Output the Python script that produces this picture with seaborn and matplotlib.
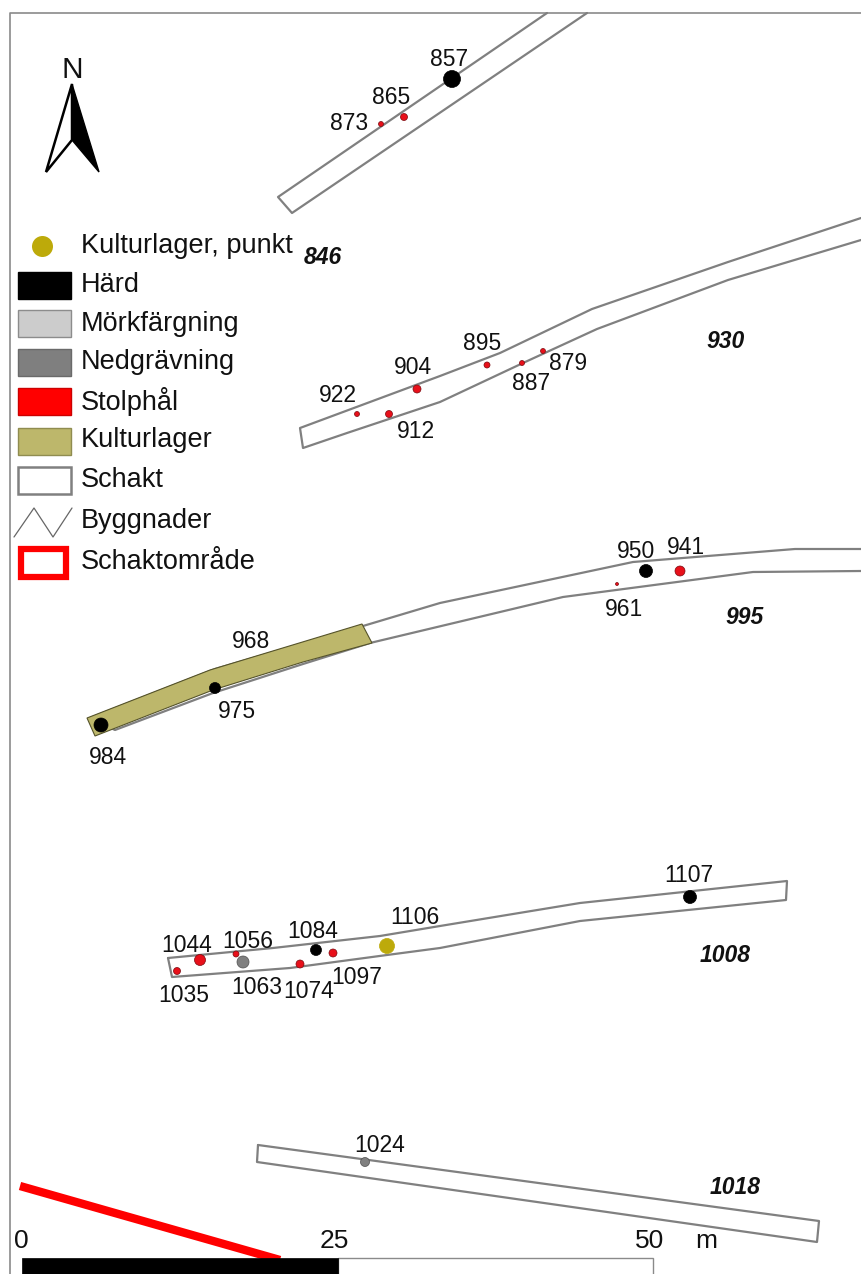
import pandas as pd
import matplotlib.pyplot as plt
import seaborn as sns
from matplotlib.patches import Rectangle

sns.set_theme(style="white")
plt.rcParams['font.family'] = ['Liberation Sans', 'DejaVu Sans']

# all map data is in image pixels
W, H = 861, 1274

# trenches (schakt)
TRENCH_846_X = [547, 278, 292, 587]
TRENCH_846_Y = [13, 197, 213, 13]
TRENCH_930_X = [861, 728, 592, 500, 440, 300, 303, 347, 440, 523, 597, 728, 861]
TRENCH_930_Y = [218, 262, 309, 353, 376, 428, 448, 433, 402, 363, 329, 280, 240]
TRENCH_995_X = [861, 795, 633, 440, 363, 215, 90, 115, 213, 303, 370, 563, 753, 861]
TRENCH_995_Y = [549, 549, 562, 603, 626, 669, 718, 730, 693, 664, 643, 597, 572, 571]
TRENCH_1008_X = [168, 273, 380, 440, 580, 787, 786, 580, 440, 387, 290, 172, 168]
TRENCH_1008_Y = [958, 948, 936, 926, 903, 881, 900, 921, 948, 955, 968, 977, 958]
TRENCH_1018_X = [258, 819, 817, 257, 258]
TRENCH_1018_Y = [1145, 1221, 1242, 1162, 1145]
TRENCHES = [
    (TRENCH_846_X, TRENCH_846_Y),
    (TRENCH_930_X, TRENCH_930_Y),
    (TRENCH_995_X, TRENCH_995_Y),
    (TRENCH_1008_X, TRENCH_1008_Y),
    (TRENCH_1018_X, TRENCH_1018_Y),
]

# kulturlager polygon
LAYER_X = [87, 210, 362, 372, 303, 213, 95]
LAYER_Y = [718, 670, 624, 643, 662, 690, 736]

# schaktområde edge
AREA_X = [20, 280]
AREA_Y = [1186, 1260]

# features
FEATURE_ID = ['857', '865', '873', '879', '887', '895', '904', '912', '922', '941', '950', '961',
              '975', '984', '1035', '1044', '1056', '1063', '1074', '1084', '1097', '1106', '1107', '1024']
FEATURE_X = [452, 404, 381, 543, 522, 487, 417, 389, 357, 680, 646, 617,
             215, 101, 177, 200, 236, 243, 300, 316, 333, 387, 690, 365]
FEATURE_Y = [79, 117, 124, 351, 363, 365, 389, 414, 414, 571, 571, 584,
             688, 725, 971, 960, 954, 962, 964, 950, 953, 946, 897, 1162]
FEATURE_D = [17, 7, 5, 5, 5, 6, 8, 7, 5, 10, 13, 3,
             11, 14, 7, 11, 6, 12, 8, 11, 8, 15, 13, 9]
FEATURE_TYPE = ['Härd', 'Stolphål', 'Stolphål', 'Stolphål', 'Stolphål', 'Stolphål', 'Stolphål',
                'Stolphål', 'Stolphål', 'Stolphål', 'Härd', 'Stolphål',
                'Härd', 'Härd', 'Stolphål', 'Stolphål', 'Stolphål', 'Nedgrävning', 'Stolphål',
                'Härd', 'Stolphål', 'Kulturlager, punkt', 'Härd', 'Nedgrävning']
TYPE_COLORS = {'Härd': '#000000', 'Stolphål': '#e8101a', 'Nedgrävning': '#808080',
               'Kulturlager, punkt': '#bdaa0a'}
TYPE_EDGES = {'Härd': '#000000', 'Stolphål': '#7a0a10', 'Nedgrävning': '#505050',
              'Kulturlager, punkt': '#bdaa0a'}

# feature labels
LABEL_TEXT = ['857', '865', '873', '879', '887', '895', '904', '912', '922', '941', '950', '961',
              '968', '975', '984', '1035', '1044', '1056', '1063', '1074', '1084', '1097', '1106', '1107', '1024']
LABEL_X = [449, 391, 349, 568, 531, 482, 413, 416, 338, 686, 636, 624,
           251, 237, 108, 184, 187, 248, 257, 309, 313, 357, 415, 689, 380]
LABEL_Y = [60, 98, 124, 363, 384, 344, 368, 432, 395, 547, 552, 609,
           641, 712, 758, 995, 946, 942, 988, 991, 932, 977, 918, 875, 1146]

TRENCH_TEXT = ['846', '930', '995', '1008', '1018']
TRENCH_TEXT_X = [323, 726, 745, 725, 735]
TRENCH_TEXT_Y = [257, 342, 617, 956, 1187]

# legend
LEGEND_TEXT = ['Kulturlager, punkt', 'Härd', 'Mörkfärgning', 'Nedgrävning', 'Stolphål',
               'Kulturlager', 'Schakt', 'Byggnader', 'Schaktområde']
LEGEND_Y = [246, 285, 324, 362, 401, 440, 480, 521, 562]
SWATCH_TOP = [272, 310, 349, 388, 428, 467]
SWATCH_FILL = ['#000000', '#cccccc', '#7f7f7f', '#ff0000', '#bdb76b', '#ffffff']
SWATCH_EDGE = ['#000000', '#8c8c8c', '#6a6a6a', '#cc0000', '#8f8c50', '#808080']
ZIGZAG_X = [14, 34, 53, 72]
ZIGZAG_Y = [537, 508, 537, 508]

# north arrow
ARROW_LEFT_X = [72, 46, 72]
ARROW_LEFT_Y = [84, 172, 140]
ARROW_RIGHT_X = [72, 99, 72]
ARROW_RIGHT_Y = [84, 172, 140]

# scale bar
SCALE_TEXT = ['0', '25', '50', 'm']
SCALE_TEXT_X = [21, 334, 650, 706]
SCALE_TEXT_Y = 1241


def outline(ax, xs, ys, color='#808080', lw=1.6, zorder=2, **kws):
    sns.lineplot(x=xs, y=ys, sort=False, estimator=None, color=color,
                 linewidth=lw, ax=ax, zorder=zorder, legend=False, **kws)


def main():
    fig = plt.figure(figsize=(W / 100, H / 100), dpi=100)
    ax = fig.add_axes([0, 0, 1, 1])
    ax.set_xlim(0, W)
    ax.set_ylim(H, 0)
    ax.axis('off')

    # map frame
    outline(ax, [10, 10, W], [H, 13, 13], color='#8a8a8a', lw=1.2, zorder=1)

    for xs, ys in TRENCHES:
        outline(ax, xs, ys)

    ax.fill(LAYER_X, LAYER_Y, facecolor='#bdb76b', edgecolor='#55532a', linewidth=0.8, zorder=3)
    outline(ax, AREA_X, AREA_Y, color='#ff0000', lw=6, zorder=4, solid_capstyle='butt')

    # features
    df = pd.DataFrame({'x': FEATURE_X, 'y': FEATURE_Y, 'kind': FEATURE_TYPE, 'd': FEATURE_D})
    df['area'] = (df['d'] * 0.72) ** 2
    sns.scatterplot(data=df, x='x', y='y', hue='kind', palette=TYPE_COLORS, s=df['area'],
                    edgecolor=df['kind'].map(TYPE_EDGES).tolist(), linewidth=0.5,
                    legend=False, ax=ax, zorder=5)
    ax.set_xlim(0, W)
    ax.set_ylim(H, 0)
    ax.set_xlabel('')
    ax.set_ylabel('')

    for t, x, y in zip(LABEL_TEXT, LABEL_X, LABEL_Y):
        ax.text(x, y, t, fontsize=16.5, color='#111111', ha='center', va='center', zorder=6)
    for t, x, y in zip(TRENCH_TEXT, TRENCH_TEXT_X, TRENCH_TEXT_Y):
        ax.text(x, y, t, fontsize=16.5, fontweight='bold', fontstyle='italic', color='#111111',
                ha='center', va='center', zorder=6)

    # legend, drawn by hand like the map layout
    for t, y in zip(LEGEND_TEXT, LEGEND_Y):
        ax.text(81, y, t, fontsize=19.5, color='#111111', ha='left', va='center', zorder=6)
    ax.scatter([42], [246], s=(21 * 0.72) ** 2, color='#bdaa0a', linewidth=0, zorder=5)
    for top, fill, edge in zip(SWATCH_TOP, SWATCH_FILL, SWATCH_EDGE):
        lw = 1.8 if fill == '#ffffff' else 1.0
        ax.add_patch(Rectangle((18, top), 53, 27, facecolor=fill, edgecolor=edge, linewidth=lw, zorder=5))
    outline(ax, ZIGZAG_X, ZIGZAG_Y, color='#666666', lw=0.9)
    ax.add_patch(Rectangle((21, 549), 45, 28, facecolor='white', edgecolor='#ff0000', linewidth=4.5, zorder=5))

    # north arrow
    ax.text(72, 70, 'N', fontsize=21.5, color='#111111', ha='center', va='center', zorder=6)
    ax.fill(ARROW_LEFT_X, ARROW_LEFT_Y, facecolor='white', edgecolor='black', linewidth=1.8, zorder=5)
    ax.fill(ARROW_RIGHT_X, ARROW_RIGHT_Y, facecolor='black', edgecolor='black', linewidth=1.0, zorder=5)

    # scale bar
    ax.add_patch(Rectangle((338, 1258), 315, 30, facecolor='white', edgecolor='#8a8a8a', linewidth=1.0, zorder=5))
    ax.add_patch(Rectangle((22, 1258), 316, 30, facecolor='black', edgecolor='black', linewidth=0.5, zorder=6))
    for t, x in zip(SCALE_TEXT, SCALE_TEXT_X):
        ax.text(x, SCALE_TEXT_Y, t, fontsize=19, color='#111111', ha='center', va='center', zorder=6)

    fig.savefig('out.png', dpi=100)


if __name__ == "__main__":
    main()
